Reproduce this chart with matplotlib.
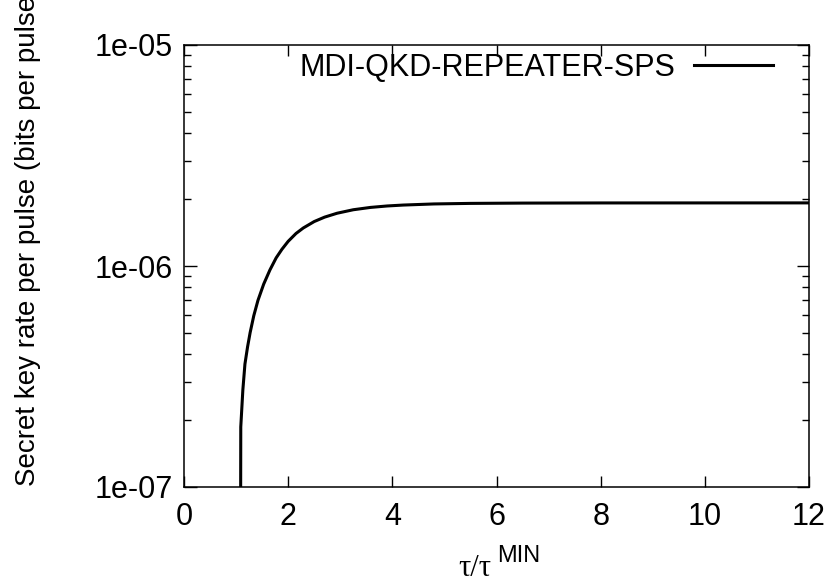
import matplotlib
matplotlib.use("Agg")
import matplotlib.pyplot as plt
from matplotlib.ticker import FixedLocator, FixedFormatter, LogLocator, NullFormatter

plt.rcParams['font.family'] = ['Liberation Sans', 'DejaVu Sans']

# tau / tau_MIN and secret key rate (bits per pulse)
tau_ratio = [1.08, 1.09, 1.13, 1.17, 1.22, 1.27, 1.34, 1.42, 1.53, 1.65,
             1.77, 1.88, 2.0, 2.15, 2.29, 2.5, 2.7, 2.94, 3.25, 3.58,
             3.9, 4.21, 4.8, 5.5, 6.5, 8.0, 12.0]
key_rate = [1e-8, 1.87e-7, 2.75e-7, 3.6e-7, 4.3e-7, 5.0e-7, 5.96e-7, 6.99e-7,
            8.28e-7, 9.6e-7, 1.089e-6, 1.19e-6, 1.293e-6, 1.403e-6, 1.486e-6,
            1.589e-6, 1.664e-6, 1.733e-6, 1.797e-6, 1.841e-6, 1.869e-6,
            1.887e-6, 1.909e-6, 1.920e-6, 1.926e-6, 1.929e-6, 1.93e-6]

y_ticks = [1e-7, 1e-6, 1e-5]
y_tick_labels = ["1e-07", "1e-06", "1e-05"]
x_ticks = [0, 2, 4, 6, 8, 10, 12]

W, H = 834, 586
fig = plt.figure(figsize=(W / 100, H / 100), dpi=100)
ax = fig.add_axes([184 / W, 1 - 487 / H, (809 - 184) / W, (487 - 45) / H])

ax.plot(tau_ratio, key_rate, color="black", lw=2.2,
        label="MDI-QKD-REPEATER-SPS")

ax.set_yscale("log")
ax.set_xlim(0, 12)
ax.set_ylim(1e-7, 1e-5)

ax.xaxis.set_major_locator(FixedLocator(x_ticks))
ax.yaxis.set_major_locator(FixedLocator(y_ticks))
ax.yaxis.set_major_formatter(FixedFormatter(y_tick_labels))
ax.yaxis.set_minor_locator(LogLocator(base=10, subs=range(2, 10)))
ax.yaxis.set_minor_formatter(NullFormatter())

ax.tick_params(which="both", direction="in", top=True, right=True,
               labelsize=22, width=1)
ax.tick_params(axis="y", which="major", length=9, pad=8)
ax.tick_params(axis="x", which="major", length=8, pad=11)
ax.tick_params(which="minor", length=5)
for s in ax.spines.values():
    s.set_linewidth(1.1)

leg = ax.legend(loc="upper right", frameon=False, markerfirst=False,
                fontsize=22, handlelength=2.6, handletextpad=0.6,
                borderpad=0, borderaxespad=0,
                bbox_to_anchor=(773 / W, 1 - 53 / H),
                bbox_transform=fig.transFigure)

# x label: serif tau with a sans superscript
fig.text(458 / W, 1 - 576 / H, "τ/τ", family="Liberation Serif",
         fontsize=22, ha="left", va="baseline")
fig.text(497 / W, 1 - 562 / H, "MIN", fontsize=17, ha="left", va="baseline")

fig.text(28 / W, 1 - 486 / H, "Secret key rate per pulse (bits per pulse)",
         rotation=90, fontsize=20, ha="center", va="bottom")

fig.savefig("out.png", dpi=100)
